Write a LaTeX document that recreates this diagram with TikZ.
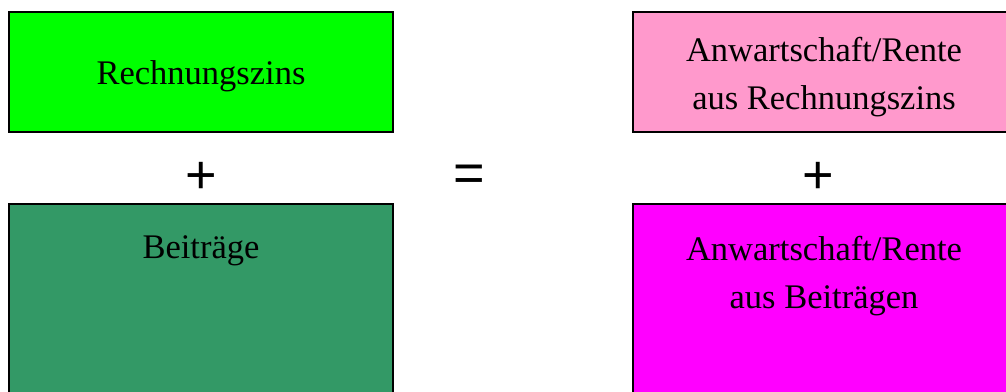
\documentclass[tikz,border=0pt]{standalone}
\usepackage{fontspec}
\setmainfont{Liberation Serif}
\newfontfamily\opfont{Liberation Sans}
\definecolor{lgreen}{HTML}{00FF00}
\definecolor{dgreen}{HTML}{339966}
\definecolor{lpink}{HTML}{FF99CC}
\definecolor{mag}{HTML}{FF00FF}
\begin{document}
\begin{tikzpicture}[x=1pt,y=-1pt,
  box/.style={draw=black,line width=1.6pt},
  lbl/.style={font=\fontsize{34.5}{48}\selectfont,align=center,inner sep=0pt},
  op/.style={font=\opfont\fontsize{54}{54}\selectfont,inner sep=0pt}]
\path[use as bounding box] (0,0) rectangle (1006,391);
\begin{scope}
\clip (0,0) rectangle (1006,391);
\draw[box,fill=lgreen] (9,12) rectangle (393,132);
\draw[box,fill=dgreen] (9,204) rectangle (393,400);
\draw[box,fill=lpink] (633,12) rectangle (1015,132);
\draw[box,fill=mag] (633,204) rectangle (1015,400);
\end{scope}
\node[lbl] (t1) at (201,76) {Rechnungszins};
\node[lbl] (t2) at (201,251) {Beiträge};
\node[lbl] (t3) at (824,77) {Anwartschaft/Rente\\aus Rechnungszins};
\node[lbl] (t4) at (824,276) {Anwartschaft/Rente\\aus Beiträgen};
\node[op] (p1) at (201,178) {+};
\node[op] (eq) at (469,178) {=};
\node[op] (p2) at (818,178) {+};
\end{tikzpicture}
\end{document}
